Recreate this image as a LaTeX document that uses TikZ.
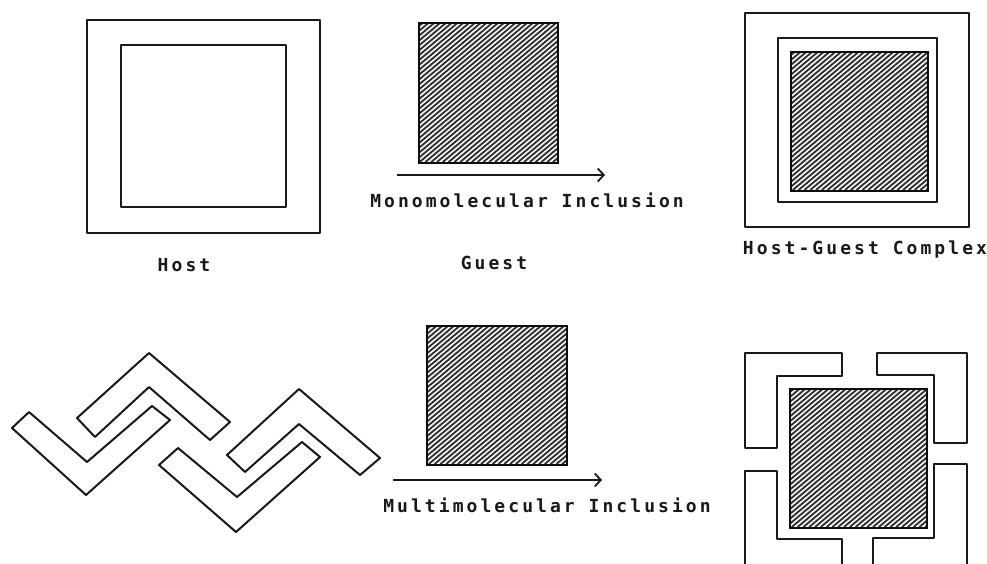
\documentclass[tikz,border=0pt]{standalone}
\usepackage{fontspec}
\usetikzlibrary{arrows.meta}
\newfontfamily\dotfont[LetterSpace=17]{DejaVu Sans Mono}
\tikzset{
  outline/.style={draw=black!90, line width=2pt, line join=round},
  hatchline/.style={draw=black!80, line width=1.9pt},
  hatchedge/.style={draw=black!95, line width=2.4pt},
  lbl/.style={font=\dotfont\bfseries\fontsize{18}{20}\selectfont, inner sep=0pt, text=black!90},
  react/.style={draw=black!90, line width=1.8pt, -{Straight Barb[length=6pt,width=13pt,line width=1.8pt]}}
}
\newcommand\hatchbox[5]{%
  \begin{scope}
    \clip (#1,#2) rectangle (#3,#4);
    \pgfmathsetmacro\hh{#4-#2}
    \pgfmathsetmacro\hd{\hh*1.19}
    \pgfmathsetmacro\hs{#1-\hd}
    \pgfmathsetmacro\hn{\hs+5.8}
    \foreach \c in {\hs,\hn,...,#3} \draw[hatchline] (\c,#4) -- (\c+\hd,#2);
  \end{scope}
  \node[hatchedge, rectangle, inner sep=0pt, anchor=north west,
        minimum width={(#3-#1)*1pt}, minimum height={(#4-#2)*1pt}] (#5) at (#1,#2) {};}
\begin{document}
\begin{tikzpicture}[x=1pt,y=-1pt]
\clip (0,0) rectangle (987,563);
\fill[white] (0,0) rectangle (987,563);

% ---- Host ----
\draw[outline] (87,20) rectangle (320,233);
\draw[outline] (121,45) rectangle (286,207);
\node[lbl] (host) at (184,265) {Host};

% ---- Guest (top) ----
\hatchbox{418}{22}{557}{162}{guestA}
\node[lbl] (guest) at (494,263) {Guest};
\coordinate (a1s) at (397,175);
\coordinate (a1e) at (605,175);
\draw[react] (a1s) -- (a1e);
\node[lbl] (mono) at (527,200) {Monomolecular Inclusion};

% ---- Host-Guest Complex ----
\draw[outline] (745,13) rectangle (969,227);
\draw[outline] (778,38) rectangle (937,202);
\hatchbox{790}{51}{927}{190}{guestB}
\node[lbl] (hgc) at (865,250) {Host-Guest Complex};

% ---- zig-zag multimolecular host ----
\draw[outline] (77,418) -- (149,353) -- (230,422) -- (210,440) -- (149,387) -- (95,437) -- cycle;
\draw[outline] (29,412) -- (87,462) -- (152,406) -- (170,420) -- (86,495) -- (12,428) -- cycle;
\draw[outline] (227,455) -- (299,389) -- (380,458) -- (360,475) -- (299,424) -- (245,472) -- cycle;
\draw[outline] (178,448) -- (237,497) -- (302,442) -- (320,457) -- (236,532) -- (159,465) -- cycle;

% ---- Guest (bottom) ----
\hatchbox{426}{325}{566}{464}{guestC}
\coordinate (a2s) at (393,480);
\coordinate (a2e) at (602,480);
\draw[react] (a2s) -- (a2e);
\node[lbl] (multi) at (547,505) {Multimolecular Inclusion};

% ---- multimolecular complex ----
\hatchbox{789}{388}{926}{527}{guestD}
\draw[outline] (745,353) -- (842,353) -- (842,376) -- (777,376) -- (777,448) -- (745,448) -- cycle;
\draw[outline] (877,353) -- (967,353) -- (967,443) -- (934,443) -- (934,375) -- (877,375) -- cycle;
\draw[outline] (745,471) -- (777,471) -- (777,539) -- (842,539) -- (842,575) -- (745,575) -- cycle;
\draw[outline] (934,464) -- (967,464) -- (967,575) -- (873,575) -- (873,538) -- (934,538) -- cycle;
\end{tikzpicture}
\end{document}
